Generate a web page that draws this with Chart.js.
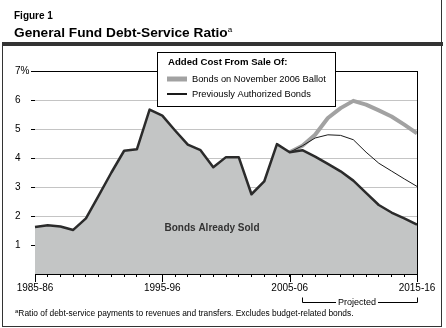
<!DOCTYPE html>
<html>
<head>
<meta charset="utf-8">
<script src="https://cdn.jsdelivr.net/npm/chart.js@4.4.1/dist/chart.umd.min.js"></script>
<style>
body{margin:0;background:#fff;font-family:"Liberation Sans",Arial,sans-serif;color:#000}
#wrap{position:relative;width:446px;height:328px;overflow:hidden}
#c{position:absolute;left:0;top:0}
.fig{position:absolute;left:14px;top:10px;font-weight:bold;font-size:10px;line-height:12px}
.ttl{position:absolute;left:14px;top:25px;font-weight:bold;font-size:13.7px;line-height:16px}
.ttl sup,.note sup{font-weight:normal;vertical-align:top;position:relative}
.ttl sup{font-size:8px;top:-3px}
.note{position:absolute;left:15px;top:308px;font-size:8.4px;line-height:11px}
.note sup{font-size:6px;top:-2px}
.ln{position:absolute;background:#333}
</style>
</head>
<body>
<div id="wrap">
<canvas id="c" width="446" height="328"></canvas>
<div class="fig">Figure 1</div>
<div class="ttl">General Fund Debt-Service Ratio<sup>a</sup></div>
<div class="ln" style="left:2px;top:42px;width:441px;height:4px"></div>
<div class="ln" style="left:441px;top:0;width:1px;height:327px"></div>
<div class="ln" style="left:2px;top:44px;width:1px;height:283px"></div>
<div class="ln" style="left:2px;top:326px;width:440px;height:1px"></div>
<div class="note"><sup>a</sup>Ratio of debt-service payments to revenues and transfers. Excludes budget-related bonds.</div>
</div>
<script>
var years = ["1985-86","1986-87","1987-88","1988-89","1989-90","1990-91","1991-92","1992-93",
  "1993-94","1994-95","1995-96","1996-97","1997-98","1998-99","1999-00","2000-01","2001-02",
  "2002-03","2003-04","2004-05","2005-06","2006-07","2007-08","2008-09","2009-10","2010-11",
  "2011-12","2012-13","2013-14","2014-15","2015-16"];
var shownYears = ["1985-86","1995-96","2005-06","2015-16"];

// bonds already sold (gray area)
var alreadySold = [1.62,1.68,1.64,1.52,1.92,2.7,3.5,4.25,4.3,5.67,5.46,4.95,4.46,4.27,3.68,
  4.03,4.03,2.75,3.19,4.48,4.2,4.27,4.05,3.8,3.54,3.22,2.8,2.38,2.12,1.92,1.7];
// plus previously authorized bonds (projected)
var prevAuthorized = [null,null,null,null,null,null,null,null,null,null,null,null,null,null,null,
  null,null,null,null,null,4.2,4.42,4.69,4.8,4.78,4.63,4.2,3.82,3.55,3.28,3.02];
// plus bonds on November 2006 ballot (projected)
var ballot = [null,null,null,null,null,null,null,null,null,null,null,null,null,null,null,
  null,null,null,null,null,4.2,4.42,4.8,5.38,5.72,5.97,5.84,5.64,5.43,5.15,4.85];

var yTicks = [0,1,2,3,4,5,6,7];
var projectedFrom = "2006-07";

Chart.defaults.font.family = '"Liberation Sans", Arial, sans-serif';
Chart.defaults.color = "#000";

var decor = {
  id: "decor",
  afterDraw: function(chart) {
    var ctx = chart.ctx, a = chart.chartArea;
    var xs = chart.scales.x;
    ctx.save();
    // right edge of plot
    ctx.strokeStyle = "#000";
    ctx.lineWidth = 1;
    ctx.beginPath();
    ctx.moveTo(Math.round(a.right) + 0.5, a.top);
    ctx.lineTo(Math.round(a.right) + 0.5, a.bottom);
    ctx.stroke();
    // long ticks at labelled years
    shownYears.forEach(function(y) {
      var px = Math.round(xs.getPixelForValue(years.indexOf(y))) + 0.5;
      ctx.beginPath();
      ctx.moveTo(px, a.bottom);
      ctx.lineTo(px, a.bottom + 8);
      ctx.stroke();
    });
    // label inside area
    ctx.fillStyle = "#333";
    ctx.font = 'bold 10px "Liberation Sans", Arial, sans-serif';
    ctx.textAlign = "center";
    ctx.textBaseline = "middle";
    ctx.fillText("Bonds Already Sold", 212, 228);
    // projected bracket
    var x1 = Math.round(xs.getPixelForValue(years.indexOf(projectedFrom))) + 0.5;
    var x2 = Math.round(xs.getPixelForValue(years.length - 1)) + 0.5;
    var by = 302.5;
    ctx.strokeStyle = "#000";
    ctx.beginPath();
    ctx.moveTo(x1, by - 5); ctx.lineTo(x1, by); ctx.lineTo(336, by);
    ctx.moveTo(378, by); ctx.lineTo(x2, by); ctx.lineTo(x2, by - 5);
    ctx.stroke();
    ctx.fillStyle = "#000";
    ctx.font = '9px "Liberation Sans", Arial, sans-serif';
    ctx.fillText("Projected", 357, by);
    // legend box
    var lx = 157.5, ly = 52.5, lw = 178, lh = 54;
    ctx.fillStyle = "#fff";
    ctx.fillRect(lx, ly, lw, lh);
    ctx.strokeRect(lx, ly, lw, lh);
    ctx.fillStyle = "#000";
    ctx.textAlign = "left";
    ctx.font = 'bold 9.6px "Liberation Sans", Arial, sans-serif';
    ctx.fillText("Added Cost From Sale Of:", 168, 62);
    ctx.font = '9.3px "Liberation Sans", Arial, sans-serif';
    var items = [chart.data.datasets[2], chart.data.datasets[1]];
    items.forEach(function(ds, i) {
      var yy = 79 + i * 15;
      ctx.strokeStyle = ds.borderColor;
      ctx.lineWidth = i === 0 ? 5 : 2;
      ctx.beginPath();
      ctx.moveTo(167, yy); ctx.lineTo(187, yy);
      ctx.stroke();
      ctx.fillText(ds.label, 192, yy);
    });
    ctx.restore();
  }
};

new Chart(document.getElementById("c"), {
  type: "line",
  data: {
    labels: years,
    datasets: [
      { label: "Bonds Already Sold", data: alreadySold, fill: "origin",
        backgroundColor: "#c3c5c5", borderColor: "#2b2b2b", borderWidth: 2.5,
        pointRadius: 0, tension: 0, borderJoinStyle: "round" },
      { label: "Previously Authorized Bonds", data: prevAuthorized, fill: false,
        borderColor: "#1a1a1a", borderWidth: 1, pointRadius: 0, tension: 0 },
      { label: "Bonds on November 2006 Ballot", data: ballot, fill: false,
        borderColor: "#a2a2a2", borderWidth: 4, pointRadius: 0, tension: 0,
        borderJoinStyle: "round" }
    ]
  },
  options: {
    responsive: false,
    animation: false,
    devicePixelRatio: 1,
    layout: { padding: { left: 15, top: 71, right: 29, bottom: 0 } },
    plugins: { legend: { display: false }, tooltip: { enabled: false } },
    scales: {
      x: {
        afterFit: function(s) { s.height = 54; },
        grid: { drawOnChartArea: false, tickLength: 3, color: "#000" },
        border: { color: "#000", width: 1 },
        ticks: {
          autoSkip: false, maxRotation: 0, padding: 5,
          font: { size: 10 },
          callback: function(v, i) { return shownYears.indexOf(years[i]) >= 0 ? years[i] : ""; }
        }
      },
      y: {
        min: 0, max: 7,
        afterFit: function(s) { s.width = 20; },
        afterBuildTicks: function(s) { s.ticks = yTicks.map(function(v) { return { value: v }; }); },
        border: { display: false },
        grid: {
          tickLength: 4,
          color: function(c) { return c.tick.value === 7 ? "#000" : (c.tick.value === 0 ? "rgba(0,0,0,0)" : "#c4c4c4"); },
          tickColor: function(c) { return c.tick.value === 0 ? "rgba(0,0,0,0)" : "#000"; }
        },
        ticks: {
          crossAlign: "far", font: { size: 10 },
          callback: function(v) { return v === 0 ? "" : (v === 7 ? "7%" : String(v)); }
        }
      }
    }
  },
  plugins: [decor]
});
</script>
</body>
</html>
